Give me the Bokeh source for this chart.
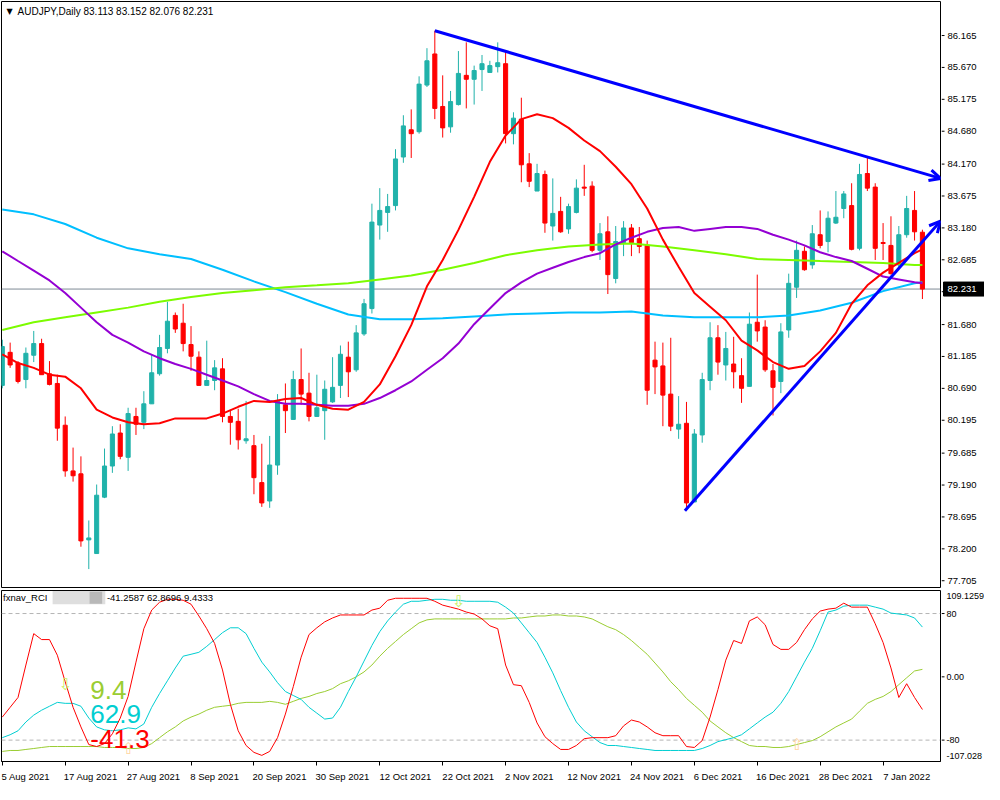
from bokeh.plotting import figure
from bokeh.layouts import column, row
from bokeh.models import (Range1d, FixedTicker, Span, Label, Arrow, OpenHead,
                          BoxAnnotation, ColumnDataSource)
from bokeh.core.properties import value
from bokeh.embed import file_html
from bokeh.resources import INLINE

FONT = "Liberation Sans"

# ---------------- price data (AUDJPY daily) ----------------
opens = [80.736, 81.249, 81.083, 80.827, 81.204, 81.385, 80.917, 80.766, 80.118, 79.409,
         79.364, 78.339, 78.127, 79.002, 79.485, 79.997, 79.620, 80.254, 80.163, 80.450,
         80.917, 81.309, 81.822, 81.701, 81.370, 81.174, 80.736, 80.812, 80.993, 80.254,
         80.178, 79.877, 79.801, 79.228, 78.942, 79.500, 80.435, 80.208, 80.827, 80.616,
         80.254, 80.344, 80.480, 80.736, 81.174, 80.978, 81.535, 81.928, 83.224, 83.420,
         83.526, 84.280, 84.702, 84.672, 85.396, 85.879, 85.064, 84.748, 85.094, 85.547,
         85.486, 85.637, 85.592, 85.682, 85.728, 84.642, 84.868, 84.174, 83.752, 84.009,
         83.209, 83.436, 83.164, 83.420, 83.813, 83.828, 82.832, 83.119, 82.395, 82.953,
         83.179, 83.013, 82.908, 81.128, 81.038, 80.601, 80.058, 80.148, 78.927, 79.967,
         80.812, 81.475, 81.053, 81.068, 80.887, 80.721, 81.716, 81.641, 80.962, 80.797,
         81.596, 82.259, 82.817, 82.606, 83.074, 82.968, 83.255, 83.481, 83.526, 82.863,
         84.024, 83.813, 82.953, 82.908, 82.606, 83.074, 83.451, 83.113]
highs = [81.445, 81.400, 81.113, 81.324, 81.581, 81.460, 81.113, 80.902, 80.254, 79.771,
         79.635, 78.640, 79.198, 79.756, 80.103, 80.133, 80.389, 80.389, 80.646, 81.219,
         81.520, 82.033, 81.867, 82.003, 81.656, 81.264, 81.430, 81.128, 81.158, 80.359,
         80.374, 80.495, 79.967, 79.831, 79.952, 80.601, 80.766, 80.962, 81.309, 80.932,
         80.902, 80.812, 81.174, 81.355, 81.415, 81.671, 82.078, 83.556, 83.797, 83.707,
         84.401, 84.928, 85.019, 85.532, 85.969, 86.240, 85.547, 85.305, 85.924, 86.059,
         85.698, 85.863, 85.773, 86.059, 85.909, 84.974, 85.200, 84.340, 84.174, 84.069,
         83.948, 83.662, 83.556, 83.933, 84.159, 83.903, 83.255, 83.360, 83.209, 83.285,
         83.240, 83.194, 82.983, 81.415, 81.400, 81.475, 80.570, 80.480, 80.058, 80.932,
         81.716, 81.671, 81.566, 81.490, 81.158, 81.867, 82.455, 81.747, 81.068, 81.701,
         82.470, 82.983, 82.893, 83.224, 83.451, 83.436, 83.752, 83.752, 83.873, 84.174,
         84.265, 83.873, 83.255, 83.360, 83.209, 83.677, 83.752, 83.152]
lows = [80.691, 81.008, 80.766, 80.691, 81.098, 80.902, 80.736, 79.877, 79.319, 79.243,
        78.233, 77.886, 78.127, 78.987, 79.379, 79.590, 79.409, 79.967, 80.058, 80.450,
        80.887, 81.234, 81.551, 81.264, 80.962, 80.736, 80.736, 80.661, 80.163, 79.816,
        79.741, 79.831, 79.047, 78.851, 78.836, 79.349, 79.997, 80.208, 80.435, 80.178,
        80.254, 79.892, 80.465, 80.540, 80.555, 80.947, 81.505, 81.852, 82.998, 83.119,
        83.451, 84.190, 84.265, 84.642, 85.366, 84.868, 84.582, 84.657, 85.079, 85.034,
        85.094, 85.305, 85.592, 85.592, 84.491, 84.476, 83.888, 83.813, 83.752, 83.104,
        82.983, 83.104, 83.089, 83.405, 83.677, 82.802, 82.682, 82.154, 82.320, 82.742,
        82.742, 82.787, 80.435, 80.601, 80.103, 80.027, 79.907, 78.836, 78.927, 79.847,
        80.661, 80.902, 80.812, 80.691, 80.465, 80.721, 81.415, 80.947, 80.269, 80.616,
        81.475, 82.093, 82.516, 82.546, 82.863, 82.802, 83.240, 83.330, 82.832, 82.832,
        83.752, 82.682, 82.682, 82.455, 82.576, 83.028, 82.983, 82.076]
closes = [81.339, 81.053, 80.797, 81.234, 81.385, 80.902, 80.751, 80.073, 79.409, 79.334,
          78.323, 78.369, 79.032, 79.485, 79.982, 79.635, 80.299, 80.133, 80.450, 80.932,
          81.324, 81.732, 81.611, 81.385, 81.189, 80.736, 80.812, 81.008, 80.254, 80.163,
          79.892, 79.907, 79.304, 78.912, 79.500, 80.495, 80.344, 80.827, 80.601, 80.254,
          80.389, 80.676, 80.706, 81.219, 80.947, 81.551, 82.003, 83.270, 83.451, 83.511,
          84.250, 84.763, 84.642, 85.411, 85.773, 85.034, 84.732, 85.140, 85.577, 85.486,
          85.622, 85.728, 85.698, 85.743, 84.642, 84.883, 84.159, 83.903, 84.024, 83.255,
          83.405, 83.119, 83.511, 83.797, 83.797, 82.832, 83.089, 82.455, 82.968, 83.179,
          82.953, 82.893, 80.661, 81.023, 80.585, 80.103, 80.133, 78.912, 79.982, 80.827,
          81.475, 81.098, 81.309, 80.947, 80.691, 81.686, 81.581, 80.978, 80.706, 81.566,
          82.320, 82.832, 82.531, 83.089, 82.908, 83.330, 83.345, 83.707, 82.847, 84.009,
          83.797, 82.863, 82.938, 82.470, 83.074, 83.481, 83.119, 82.231]

# ---------------- moving averages ----------------
ma_fast_idx = list(range(0, 117, 2)) + [117]
ma_red = [81.219, 81.083, 81.008, 80.902, 80.872, 80.691, 80.359, 80.239, 80.163, 80.133,
          80.148, 80.224, 80.224, 80.224, 80.299, 80.404, 80.495, 80.480, 80.525, 80.540,
          80.435, 80.374, 80.359, 80.480, 80.751, 81.189, 81.671, 82.274, 82.682, 83.149,
          83.662, 84.205, 84.612, 84.868, 84.944, 84.883, 84.732, 84.536, 84.371, 84.129,
          83.858, 83.481, 82.998, 82.576, 82.169, 81.958, 81.747, 81.430, 81.279, 81.098,
          80.993, 81.038, 81.264, 81.551, 82.003, 82.289, 82.486, 82.636, 82.787, 82.847]
ma_purple = [82.817, 82.666, 82.516, 82.365, 82.169, 81.943, 81.716, 81.520, 81.400, 81.264,
             81.158, 81.068, 80.993, 80.902, 80.812, 80.721, 80.601, 80.495, 80.450, 80.450,
             80.435, 80.420, 80.420, 80.450, 80.540, 80.661, 80.797, 80.978, 81.158, 81.385,
             81.686, 81.928, 82.169, 82.335, 82.470, 82.561, 82.651, 82.727, 82.787, 82.923,
             83.028, 83.119, 83.179, 83.194, 83.134, 83.164, 83.194, 83.194, 83.164, 83.074,
             82.998, 82.908, 82.802, 82.727, 82.666, 82.546, 82.425, 82.380, 82.335, 82.320]
ma_slow_idx = list(range(0, 117, 4)) + [117]
ma_green = [81.596, 81.716, 81.792, 81.867, 81.943, 82.033, 82.109, 82.169, 82.214, 82.259,
            82.289, 82.320, 82.380, 82.440, 82.531, 82.636, 82.757, 82.832, 82.893, 82.923,
            82.938, 82.893, 82.832, 82.772, 82.697, 82.682, 82.666, 82.651, 82.636, 82.606,
            82.606]
ma_cyan = [83.466, 83.390, 83.240, 83.028, 82.863, 82.772, 82.697, 82.531, 82.350, 82.184,
           82.003, 81.837, 81.762, 81.762, 81.777, 81.807, 81.837, 81.852, 81.867, 81.867,
           81.882, 81.822, 81.792, 81.792, 81.792, 81.822, 81.897, 82.018, 82.199, 82.320,
           82.335]

# trend lines (bar index, price)
trend_top_x = [55, 119.3]
trend_top_y = [86.240, 83.948]
trend_low_x = [86.8, 119.3]
trend_low_y = [78.791, 83.285]

price_ticks = [86.165, 85.670, 85.175, 84.680, 84.170, 83.675, 83.180, 82.685, 82.190,
               81.680, 81.185, 80.690, 80.195, 79.685, 79.190, 78.695, 78.200, 77.705]

# ---------------- RCI indicator ----------------
rci_red = [-50.9, -38.5, -26.1, 14.9, 54.6, 47.1, 47.1, 27.3, -6.2, -38.5,
           -63.3, -85.6, -88.1, -84.4, -72.0, -52.1, -24.8, 18.6, 60.8, 84.4,
           94.3, 98.0, 98.0, 96.8, 91.8, 76.9, 60.8, 42.2, 8.7, -34.7,
           -68.2, -86.8, -95.5, -99.3, -94.3, -76.9, -47.1, -12.4, 24.8, 53.4,
           62.0, 69.5, 74.4, 78.2, 78.2, 78.2, 78.2, 84.4, 86.8, 96.8,
           99.3, 99.3, 99.3, 99.3, 99.3, 95.5, 90.6, 88.1, 85.6, 81.9,
           79.4, 73.2, 64.5, 60.8, 14.9, -9.9, -11.2, -32.3, -58.3, -75.7,
           -84.4, -91.8, -91.8, -86.8, -78.2, -76.9, -76.9, -76.9, -74.4, -62.0,
           -54.6, -57.1, -63.3, -70.7, -74.4, -74.4, -74.4, -88.1, -89.3, -80.6,
           -50.9, -16.1, 21.1, 45.9, 42.2, 70.7, 75.7, 65.8, 40.9, 34.7,
           34.7, 43.4, 59.6, 73.2, 83.1, 85.6, 86.8, 93.1, 88.1, 88.1,
           88.1, 67.0, 43.4, 11.2, -26.1, -8.7, -26.1, -41.2587]
rci_cyan = [-76.9, -73.2, -68.2, -57.1, -48.4, -42.2, -37.2, -32.3, -33.5, -33.5,
            -37.2, -52.1, -63.3, -67.0, -68.2, -67.0, -64.5, -65.8, -59.6, -38.5,
            -21.1, -5.0, 11.2, 26.1, 28.5, 31.0, 38.5, 47.1, 55.8, 62.0,
            62.0, 54.6, 36.0, 18.6, 6.2, -7.4, -18.6, -23.6, -28.5, -38.5,
            -45.9, -53.4, -52.1, -38.5, -18.6, 0.0, 19.9, 39.7, 57.1, 70.7,
            81.9, 91.8, 95.5, 95.5, 96.8, 98.0, 98.0, 96.8, 96.8, 95.5,
            95.5, 95.5, 95.5, 94.3, 88.1, 80.6, 68.2, 55.8, 43.4, 24.8,
            5.0, -17.4, -38.5, -57.1, -68.2, -75.7, -83.1, -86.8, -86.8, -88.1,
            -89.3, -90.6, -91.8, -93.1, -93.1, -93.1, -93.1, -93.1, -93.1, -90.6,
            -86.8, -81.9, -79.4, -76.9, -73.2, -65.8, -58.3, -50.9, -44.7, -33.5,
            -18.6, 0.0, 18.6, 36.0, 58.3, 81.9, 84.4, 89.3, 90.6, 90.6,
            90.6, 88.1, 85.6, 80.6, 79.4, 78.2, 74.4, 62.8696]
rci_green = [-94.3, -93.1, -93.1, -91.8, -90.6, -89.3, -88.1, -88.1, -88.1, -88.1,
             -88.1, -88.1, -88.1, -89.3, -89.3, -89.3, -90.6, -90.6, -89.3, -84.4,
             -76.9, -69.5, -63.3, -55.8, -50.9, -47.1, -42.2, -38.5, -37.2, -36.0,
             -33.5, -32.3, -32.3, -32.3, -31.0, -32.3, -34.7, -31.0, -27.3, -24.8,
             -21.1, -18.6, -14.9, -8.7, -5.0, 0.0, 6.2, 14.9, 26.1, 36.0,
             44.7, 53.4, 60.8, 68.2, 72.0, 73.2, 73.2, 73.2, 73.2, 73.2,
             73.2, 73.2, 73.2, 73.2, 73.2, 74.4, 74.4, 75.7, 76.9, 76.9,
             78.2, 78.2, 76.9, 76.9, 75.7, 73.2, 68.2, 63.3, 59.6, 53.4,
             45.9, 37.2, 28.5, 17.4, 6.2, -6.2, -16.1, -27.3, -36.0, -44.7,
             -55.8, -63.3, -70.7, -76.9, -81.9, -86.8, -88.1, -88.1, -89.3, -89.3,
             -88.1, -85.6, -83.1, -80.6, -75.7, -69.5, -63.3, -58.3, -53.4, -43.4,
             -33.5, -28.5, -24.8, -18.6, -9.9, -1.2, 7.4, 9.4333]

rci_scale_pos = [102, 80, 0, -80, -100]
rci_scale_txt = ["109.1259", "80", "0.00", "-80", "-107.028"]
rci_tick_levels = [80, 0, -80]

signal_idx = [8, 16, 58, 101]
signal_val = [-9.9, -90.6, 95.5, -85.6]
signal_kind = ["down", "up", "down", "up"]

date_bars = [0, 8, 16, 24, 32, 40, 48, 56, 64, 72, 80, 88, 96, 104, 112]
date_labels = ["5 Aug 2021", "17 Aug 2021", "27 Aug 2021", "8 Sep 2021", "20 Sep 2021",
               "30 Sep 2021", "12 Oct 2021", "22 Oct 2021", "2 Nov 2021", "12 Nov 2021",
               "24 Nov 2021", "6 Dec 2021", "16 Dec 2021", "28 Dec 2021", "7 Jan 2022"]

# ---------------- geometry ----------------
CW = 941            # chart figures width
SW = 43             # price-scale column width
H_MAIN, MB_TOP, MB_BOT = 590, 1, 3
H_RCI, RB_TOP, RB_BOT = 194, 0, 21
X0, X1 = -0.1, 119.3
x_range = Range1d(X0, X1)
p_range = Range1d(77.60, 86.693)
r_range = Range1d(-107.028, 109.1259)
FRAME_W = CW - 2
FRAME_H = H_MAIN - MB_TOP - MB_BOT


def bare(fig):
    fig.xgrid.visible = False
    fig.ygrid.visible = False
    return fig


# ---------------- main price chart ----------------
n = len(opens)
bars = list(range(n))
bull = [c >= o for o, c in zip(opens, closes)]
src = ColumnDataSource(dict(
    x=bars, high=highs, low=lows,
    top=[max(o, c) for o, c in zip(opens, closes)],
    bottom=[min(o, c) for o, c in zip(opens, closes)],
    color=["#20b2aa" if b else "#ff0000" for b in bull],
))

main = bare(figure(width=CW, height=H_MAIN, x_range=x_range, y_range=p_range,
                   output_backend="svg", toolbar_location=None, x_axis_location=None,
                   y_axis_location=None, min_border_left=1, min_border_right=1,
                   min_border_top=MB_TOP, min_border_bottom=MB_BOT,
                   background_fill_color="white", border_fill_color="white",
                   outline_line_color="black"))

main.add_layout(Span(location=closes[-1], dimension="width", line_color="#7f8a96",
                     line_width=1, level="underlay"))
main.segment(x0="x", y0="low", x1="x", y1="high", color="color", line_width=1, source=src)
main.vbar(x="x", width=0.52, top="top", bottom="bottom", fill_color="color",
          line_color="color", line_width=1, source=src)
main.line(ma_slow_idx, ma_cyan, line_color="#00bfff", line_width=2)
main.line(ma_slow_idx, ma_green, line_color="#7cfc00", line_width=2)
main.line(ma_fast_idx, ma_purple, line_color="#9400d3", line_width=2)
main.line(ma_fast_idx, ma_red, line_color="#ff0000", line_width=2)

for xs, ys in ((trend_top_x, trend_top_y), (trend_low_x, trend_low_y)):
    main.add_layout(Arrow(end=OpenHead(size=11, line_color="#0000ff", line_width=3),
                          x_start=xs[0], y_start=ys[0], x_end=xs[1], y_end=ys[1],
                          line_color="#0000ff", line_width=3))

upp = (p_range.end - p_range.start) / FRAME_H
title_y = p_range.end - 10 * upp
main.add_layout(Label(x=0.94, y=title_y, text="\u25bc", text_font="DejaVu Sans",
                      text_font_size="8px", text_align="center", text_baseline="middle",
                      text_color="black"))
main.add_layout(Label(x=1.94, y=title_y,
                      text=f"AUDJPY,Daily  {opens[-1]:.3f} {highs[-1]:.3f} {lows[-1]:.3f} {closes[-1]:.3f}",
                      text_font=FONT, text_font_size="10px", text_align="left",
                      text_baseline="middle", text_color="black"))

# price scale column (same price range and same borders as the chart)
pscale = bare(figure(width=SW, height=H_MAIN, x_range=Range1d(0, SW), y_range=p_range,
                     output_backend="svg", toolbar_location=None, x_axis_location=None,
                     y_axis_location=None, min_border_left=0, min_border_right=0,
                     min_border_top=MB_TOP, min_border_bottom=MB_BOT,
                     outline_line_color=None, background_fill_color="white",
                     border_fill_color="white"))
pscale.segment(x0=0, y0=price_ticks, x1=3, y1=price_ticks, line_color="black", line_width=1)
pscale.text(x=6, y=price_ticks, text=[f"{t:.3f}" for t in price_ticks],
            text_font=value(FONT), text_font_size="9.5px", text_color="black",
            text_align="left", text_baseline="middle")
pscale.quad(left=2, right=SW, bottom=closes[-1] - 7 * upp, top=closes[-1] + 7 * upp,
            fill_color="black", line_color="black")
pscale.text(x=6, y=closes[-1], text=[f"{closes[-1]:.3f}"], text_font=value(FONT),
            text_font_size="9.5px", text_color="white", text_align="left",
            text_baseline="middle")

# ---------------- RCI panel ----------------
rci = bare(figure(width=CW, height=H_RCI, x_range=x_range, y_range=r_range,
                  output_backend="svg", toolbar_location=None, y_axis_location=None,
                  min_border_left=1, min_border_right=1, min_border_top=RB_TOP,
                  min_border_bottom=RB_BOT, background_fill_color="white",
                  border_fill_color="white", outline_line_color="black"))

for lvl in (80, -80):
    rci.add_layout(Span(location=lvl, dimension="width", line_color="#b4b4b4",
                        line_dash="4 3", line_width=1, level="underlay"))

rci.line(bars, rci_green, line_color="#9acd32", line_width=1)
rci.line(bars, rci_cyan, line_color="#00ced1", line_width=1)
rci.line(bars, rci_red, line_color="#ff0000", line_width=1)

rci.text(x=signal_idx, y=signal_val,
         text=["\u21e9" if k == "down" else "\u21e7" for k in signal_kind],
         text_color=["#c8f060" if k == "down" else "#ffd6a0" for k in signal_kind],
         text_font=value("DejaVu Sans"), text_font_size="16px",
         text_align="center", text_baseline="middle")

rci.add_layout(BoxAnnotation(left=6.4, right=13.1, top=108.5, bottom=91.8,
                             fill_color="#dedede", fill_alpha=1.0, line_color=None))
rci.add_layout(BoxAnnotation(left=11.1, right=12.7, top=107.5, bottom=92.5,
                             fill_color="#b8b8b8", fill_alpha=1.0, line_color=None))
rci.add_layout(Label(x=0.1, y=100.0, text="fxnav_RCI", text_font=FONT,
                     text_font_size="9.5px", text_align="left", text_baseline="middle",
                     text_color="black"))
rci.add_layout(Label(x=13.3, y=100.0,
                     text=f"{rci_red[-1]:.4f} {rci_cyan[-1]:.4f} {rci_green[-1]:.4f}",
                     text_font=FONT, text_font_size="9.5px", text_align="left",
                     text_baseline="middle", text_color="black"))

for txt, col, yy in ((f"{rci_green[-1]:.1f}", "#9acd32", -16.1),
                     (f"{rci_cyan[-1]:.1f}", "#00ced1", -47.1),
                     (f"{rci_red[-1]:.1f}", "#ff0000", -78.2)):
    rci.add_layout(Label(x=11.2, y=yy, text=txt, text_font=FONT, text_font_size="26px",
                         text_align="left", text_baseline="middle", text_color=col))

px_per_bar = FRAME_W / (X1 - X0)
centers = [round((b + len(l) * 4.65 / 2 / px_per_bar) * 4) / 4 for b, l in zip(date_bars, date_labels)]
rx = rci.xaxis[0]
rx.ticker = FixedTicker(ticks=centers, minor_ticks=date_bars)
rx.major_label_overrides = {c: l for c, l in zip(centers, date_labels)}
rx.major_tick_line_color = None
rx.major_tick_out = 0
rx.major_tick_in = 0
rx.minor_tick_out = 4
rx.minor_tick_in = 0
rx.minor_tick_line_color = "black"
rx.major_label_standoff = 5
rx.major_label_text_font = FONT
rx.major_label_text_font_size = "9.5px"
rx.major_label_text_color = "black"
rx.axis_line_color = "black"

# RCI scale column (same RCI range and same borders as the panel)
rscale = bare(figure(width=SW, height=H_RCI, x_range=Range1d(0, SW), y_range=r_range,
                     output_backend="svg", toolbar_location=None, x_axis_location=None,
                     y_axis_location=None, min_border_left=0, min_border_right=0,
                     min_border_top=RB_TOP, min_border_bottom=RB_BOT,
                     outline_line_color=None, background_fill_color="white",
                     border_fill_color="white"))
rscale.segment(x0=0, y0=rci_tick_levels, x1=3, y1=rci_tick_levels, line_color="black",
               line_width=1)
rscale.text(x=5, y=rci_scale_pos, text=rci_scale_txt, text_font=value(FONT),
            text_font_size="9px", text_color="black", text_align="left",
            text_baseline="middle")

layout = column(row(main, pscale, spacing=0), row(rci, rscale, spacing=0), spacing=0)
open("out.html", "w").write(file_html(layout, INLINE))
